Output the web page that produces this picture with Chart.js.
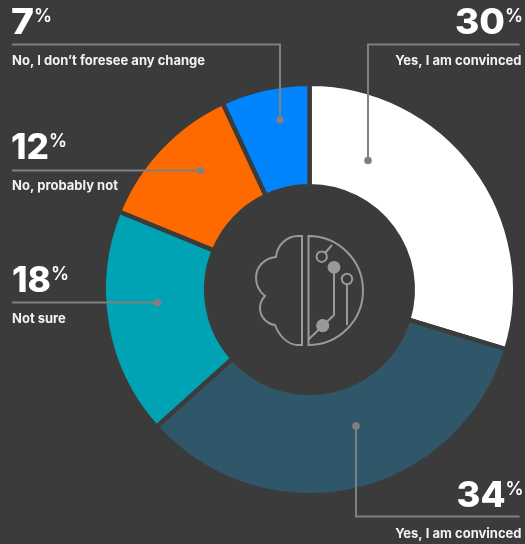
<!DOCTYPE html>
<html>
<head>
<meta charset="utf-8">
<title>Survey donut</title>
<script src="https://cdn.jsdelivr.net/npm/chart.js@4/dist/chart.umd.min.js"></script>
<style>
    html, body { margin: 0; padding: 0; background: #3b3b3b; }
    #wrap { position: relative; width: 525px; height: 544px; overflow: hidden; }
    #chart { position: absolute; left: 0; top: 0; }
    #icon { position: absolute; left: 230px; top: 210px; }
</style>
</head>
<body>
<div id="wrap">
    <canvas id="chart" width="525" height="544"></canvas>
    <svg id="icon" width="160" height="160" viewBox="230 210 160 160" fill="none" stroke="#999999" stroke-width="2">
        <!-- left half, cloud outline -->
        <path d="M302 236 H298 C287 236 277 245 276 257 C264 258 256 267 256 278 C256 286 260 292 265 296 C261 300 260 304 260 308 C260 317 267 324 275 325 C279 336 288 345 298 345 H302 Z"/>
        <!-- right half, circuit -->
        <path d="M308.5 236 A54.5 54.5 0 0 1 308.5 345 Z"/>
        <path d="M325.5 252.5 L332 245"/>
        <circle cx="321.7" cy="256.7" r="5.2"/>
        <circle cx="334" cy="267.3" r="6.4" fill="#999999" stroke="none"/>
        <path d="M334 267 V315 L308.5 339.5"/>
        <circle cx="322.7" cy="325.7" r="6.6" fill="#999999" stroke="none"/>
        <circle cx="347" cy="279" r="5.2"/>
        <path d="M347 284 V325"/>
    </svg>
</div>
<script>
const categories = ['Yes, I am convinced', 'Yes, I am convinced', 'Not sure', 'No, probably not', "No, I don\u2019t foresee any change"];
const values = [30, 34, 18, 12, 7];
const sliceColors = ['#ffffff', '#2f5769', '#00a3b3', '#ff6a00', '#0085ff'];
const backgroundColor = '#3b3b3b';

// callout layout, same order as categories: number baseline and width, rule path, label baseline
const callouts = [
    { align: 'right', x: 505, numW: 50, numY: 34, labelX: 521.5, labelY: 65, path: [[519.5, 44.5], [368, 44.5], [368, 160.5]] },
    { align: 'right', x: 505.5, numW: 49, numY: 507, labelX: 521.5, labelY: 538, path: [[519.5, 516.5], [356, 516.5], [356, 426]] },
    { align: 'left', x: 12, numW: 39, numY: 292, labelX: 12, labelY: 323, path: [[12, 302.5], [157.5, 302.5]] },
    { align: 'left', x: 11, numW: 38, numY: 159, labelX: 12, labelY: 190, path: [[12, 170.5], [200.5, 170.5]] },
    { align: 'left', x: 11, numW: 23, numY: 34, labelX: 12, labelY: 65, path: [[12, 44.5], [280, 44.5], [280, 120]] }
];

const calloutPlugin = {
    id: 'callouts',
    afterDatasetsDraw(chart) {
        const ctx = chart.ctx;
        ctx.save();
        callouts.forEach((c, i) => {
            // leader
            ctx.strokeStyle = '#808080';
            ctx.lineWidth = 2;
            ctx.beginPath();
            c.path.forEach((p, j) => j === 0 ? ctx.moveTo(p[0], p[1]) : ctx.lineTo(p[0], p[1]));
            ctx.stroke();
            const end = c.path[c.path.length - 1];
            ctx.fillStyle = '#808080';
            ctx.beginPath();
            ctx.arc(end[0], end[1], 3.8, 0, Math.PI * 2);
            ctx.fill();

            // big number with small percent sign
            ctx.fillStyle = '#ffffff';
            ctx.textBaseline = 'alphabetic';
            ctx.textAlign = 'left';
            ctx.font = '800 35px Inter';
            const num = String(values[i]);
            const left = c.align === 'right' ? c.x - c.numW : c.x;
            ctx.save();
            ctx.translate(left, c.numY);
            ctx.scale(c.numW / ctx.measureText(num).width, 1);
            ctx.fillText(num, 0, 0);
            ctx.restore();
            ctx.font = '600 18px Inter';
            ctx.fillText('%', left + c.numW, c.numY - 12);

            // label
            ctx.font = '700 13px Inter';
            ctx.fillStyle = '#f2f2f2';
            ctx.textAlign = c.align;
            ctx.fillText(categories[i], c.labelX, c.labelY);
        });
        ctx.restore();
    }
};

new Chart(document.getElementById('chart').getContext('2d'), {
    type: 'doughnut',
    data: {
        labels: categories,
        datasets: [{
            data: values,
            backgroundColor: sliceColors,
            borderColor: backgroundColor,
            borderWidth: 4.5
        }]
    },
    options: {
        responsive: false,
        animation: false,
        cutout: 103.25,
        layout: { padding: { left: 101.5, right: 7.5, top: 81.5, bottom: 46.5 } },
        plugins: { legend: { display: false }, tooltip: { enabled: false } }
    },
    plugins: [calloutPlugin]
});
</script>
</body>
</html>
